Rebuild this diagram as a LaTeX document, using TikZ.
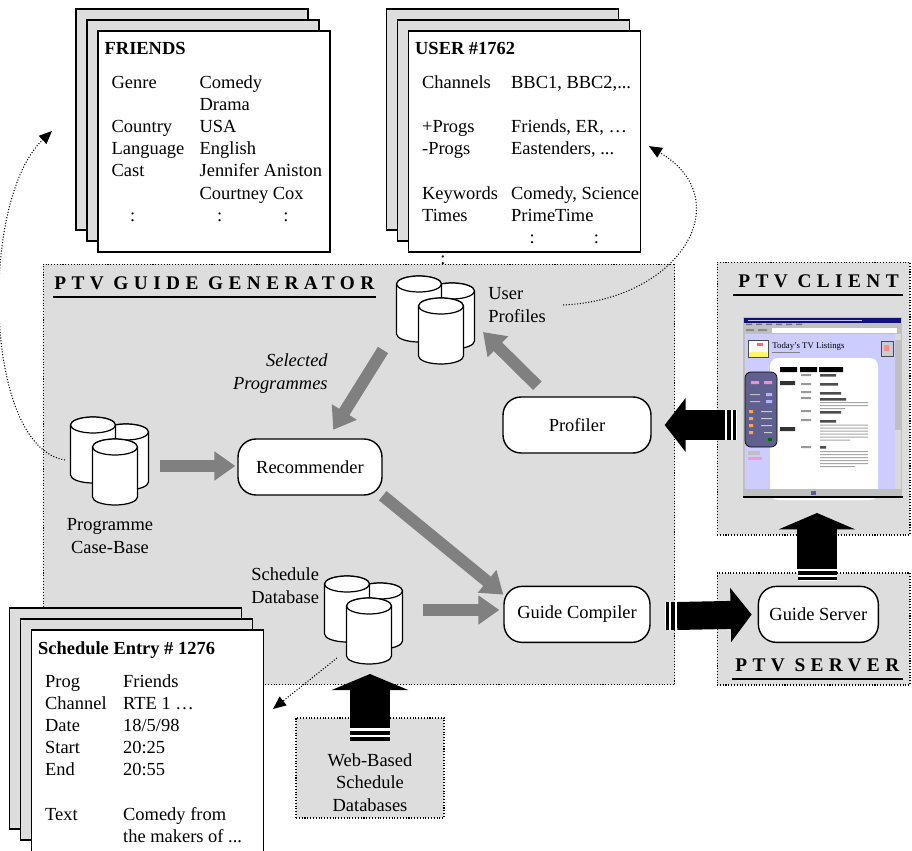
\documentclass[tikz,border=0pt]{standalone}
\usepackage{fontspec}
\setmainfont{Liberation Serif}
\usetikzlibrary{arrows.meta, positioning, calc}

\definecolor{panelGrey}{RGB}{221,221,221}
\definecolor{flowGrey}{RGB}{128,128,128}
\definecolor{winGrey}{RGB}{192,192,192}
\definecolor{winNavy}{RGB}{16,16,128}
\definecolor{pageLilac}{RGB}{204,204,255}
\definecolor{remoteBlue}{RGB}{96,96,144}

\tikzset{
  panelBox/.style={rectangle, draw=black, densely dotted, line width=0.6pt, fill=panelGrey, inner sep=0pt},
  panelTitle/.style={anchor=base west, inner sep=0pt, font=\fontsize{11}{13}\selectfont\bfseries\addfontfeature{LetterSpace=28}},
  titleRule/.style={line width=1.1pt},
  sheetBack/.style={rectangle, draw=black, line width=0.8pt, fill=panelGrey, minimum width=4.64cm, minimum height=4.42cm},
  sheetFront/.style={sheetBack, fill=white},
  sheetHead/.style={anchor=base west, inner sep=0pt, font=\fontsize{10.5}{12.6}\selectfont\bfseries},
  sheetBody/.style={anchor=base west, inner sep=0pt},
  dbLabel/.style={inner sep=0pt},
  procBox/.style={rectangle, rounded corners=0.36cm, draw=black, line width=0.8pt, fill=white, minimum height=1.12cm, align=center},
  cylLine/.style={draw=black, fill=white, line width=0.7pt},
  greyArr/.style={color=flowGrey, line width=0.24cm, -{Triangle[length=0.42cm, width=0.56cm]}},
  hBlock/.style={line width=0.58cm, -{Triangle[length=0.42cm, width=1.06cm]}},
  vBlock/.style={line width=0.79cm, -{Triangle[length=0.33cm, width=1.53cm]}},
  dotArr/.style={densely dotted, line width=0.6pt, -{Triangle[length=0.26cm, width=0.22cm]}},
  % one database drum, origin at the top of its lid
  dbcyl/.pic={
    \draw[cylLine] (-22.5,8) -- (-22.5,58) arc[start angle=180, end angle=0, x radius=22.5, y radius=8]
      -- (22.5,8) arc[start angle=0, end angle=-180, x radius=22.5, y radius=8] -- cycle;
    \draw[cylLine] (0,8) ellipse[x radius=22.5, y radius=8];
  },
  % three drums, origin at the front one
  dbstack/.pic={
    \pic at (11,-15) {dbcyl};
    \pic at (-22,-22) {dbcyl};
    \pic at (0,0) {dbcyl};
    \coordinate (-e) at (45,27);
    \coordinate (-ne) at (54,12);
    \coordinate (-se) at (42,34);
    \coordinate (-sw) at (-58,52);
    \coordinate (-w) at (-50,21);
    \coordinate (-s) at (0,66);
    \coordinate (-dl) at (-32,60);
  },
}

\begin{document}
\begin{tikzpicture}[x=0.02cm, y=-0.02cm, every node/.style={font=\fontsize{10.5}{12.6}\selectfont}]
\useasboundingbox (0,0) rectangle (912,851);
\clip (0,0) rectangle (912,851);

% Panels
\node[panelBox, minimum width=12.64cm, minimum height=8.42cm] (gen) at (359,474.5) {};
\node[panelBox, minimum width=3.86cm, minimum height=5.46cm] (clientBox) at (813.5,398.5) {};
\node[panelBox, minimum width=3.86cm, minimum height=2.24cm] (serverBox) at (813.5,629) {};
\node[panelBox, minimum width=2.96cm, minimum height=2cm] (webBox) at (370,768) {};

\node[panelTitle] (genTitle) at (54,289) {PTV\hspace{0.5em}GUIDE\hspace{0.5em}GENERATOR};
\node[panelTitle] (clientTitle) at (738,287) {PTV\hspace{0.5em}CLIENT};
\node[panelTitle] (serverTitle) at (735,671) {PTV\hspace{0.5em}SERVER};
\draw[titleRule] ([shift={(-1,8)}]genTitle.base west) -- ([shift={(1,8)}]genTitle.base east);
\draw[titleRule] ([shift={(-5,8)}]clientTitle.base west) -- ([shift={(4,8)}]clientTitle.base east);
\draw[titleRule] ([shift={(-3,8)}]serverTitle.base west) -- ([shift={(3,8)}]serverTitle.base east);

% Programme record
\node[sheetBack] (friends3) at (192,119.5) {};
\node[sheetBack] (friends2) at (203,130.5) {};
\node[sheetFront] (friends) at (214,141.5) {};
\node[sheetHead] (friendsHead) at ([shift={(7,24)}]friends.north west) {FRIENDS};
\node[sheetBody] (friendsBody) at ([shift={(14,58)}]friends.north west) {%
  \begin{tabular}[t]{@{}p{1.76cm}@{}l@{}}
  Genre & Comedy\\
   & Drama\\
  Country & USA\\
  Language & English\\
  Cast & Jennifer Aniston\\
   & Courtney Cox\\
  \hspace{0.37cm}: & \hspace{0.35cm}:\hspace{1.22cm}:
  \end{tabular}};

% User profile record
\node[sheetBack] (user3) at (502.5,119.5) {};
\node[sheetBack] (user2) at (513.5,130.5) {};
\node[sheetFront] (user) at (524.5,141.5) {};
\node[sheetHead] (userHead) at ([shift={(7,24)}]user.north west) {USER \#1762};
\node[sheetBody] (userBody) at ([shift={(14,58)}]user.north west) {%
  \begin{tabular}[t]{@{}p{1.78cm}@{}l@{}}
  Channels & BBC1, BBC2,...\\
   & \\
  +Progs & Friends, ER, …\\
  -Progs & Eastenders, ...\\
   & \\
  Keywords & Comedy, Science\\
  Times & PrimeTime\\
   & \hspace{0.37cm}:\hspace{1.18cm}:
  \end{tabular}};
\node[anchor=base, inner sep=0pt] (userMore) at (443,264) {:};

% Schedule record
\node[sheetBack] (entry3) at (125.5,718.5) {};
\node[sheetBack] (entry2) at (136.5,729.5) {};
\node[sheetFront, minimum height=4.6cm] (entry) at (147.5,745) {};
\node[sheetHead] (entryHead) at ([shift={(7,25)}]entry.north west) {Schedule Entry \# 1276};
\node[sheetBody] (entryBody) at ([shift={(14,58)}]entry.north west) {%
  \begin{tabular}[t]{@{}p{1.56cm}@{}l@{}}
  Prog & Friends\\
  Channel & RTE 1 …\\
  Date & 18/5/98\\
  Start & 20:25\\
  End & 20:55\\
   & \\
  Text & Comedy from\\
   & the makers of ...
  \end{tabular}};

% Databases
\pic (prof) at (441,298) {dbstack};
\pic (case) at (115,439) {dbstack};
\pic (sched) at (369,598) {dbstack};

% multi-line labels sit on the baseline of their last line
\node[dbLabel, anchor=base west, align=left] (profLabel) at (488,322) {User\\Profiles};
\node[dbLabel, anchor=base east, align=right, font=\fontsize{10.5}{12.6}\selectfont\itshape] (selLabel) at (328,389) {Selected\\Programmes};
\node[dbLabel, anchor=base, align=center] (caseLabel) at (110,553) {Programme\\Case-Base};
\node[dbLabel, anchor=base west, align=left] (schedLabel) at (251,603) {Schedule\\Database};
\node[dbLabel, anchor=base, align=center] (webLabel) at (370,811) {Web-Based\\Schedule\\Databases};

% Processes
\node[procBox, minimum width=2.88cm] (recomm) at (310,467) {Recommender};
\node[procBox, minimum width=2.96cm] (profiler) at (577,425) {Profiler};
\node[procBox, minimum width=2.92cm, below=2.64cm of profiler] (compiler) {Guide Compiler};
\node[procBox, minimum width=2.4cm, right=2.14cm of compiler] (server) {Guide Server};

% Browser window on the client
\node[rectangle, fill=winGrey, minimum width=3.2cm, minimum height=3.6cm, inner sep=0pt, outer sep=0pt] (screen) at (822.5,407) {};
\fill[winNavy] (744,318) rectangle (901,322.5);
\fill[white!75!winNavy] (748,319.5) rectangle (862,320.8);
\fill[black!55] (746,323.5) rectangle (752,325) (756,323.5) rectangle (762,325) (766,323.5) rectangle (772,325)
  (776,323.5) rectangle (782,325) (786,323.5) rectangle (792,325) (796,323.5) rectangle (802,325);
\fill[black!45] (746,329) rectangle (754,331) (758,329) rectangle (767,331);
\fill[white] (772,328) rectangle (897,332.5);
\fill[pageLilac] (745,334) rectangle (895,489);
\fill[winGrey!60] (895,334) rectangle (901,489);
\fill[winGrey] (895,340) rectangle (901,430);
\fill[white, rounded corners=0.16cm] (770,358) rectangle (878,500);
\fill[winGrey] (744,489) rectangle (901,496);
\fill[winNavy!70] (811,490.5) rectangle (816,494.5);
\draw[line width=1pt] (742.5,497) -- (902.5,497);
% page header
\draw[black!70, fill=white, line width=0.3pt] (748,340) rectangle (768,357);
\fill[yellow!60] (749,352) rectangle (767,356.5);
\fill[red!60] (757,343) rectangle (763,346);
\node[anchor=base west, inner sep=0pt, font=\fontsize{5}{6}\selectfont] (tvTitle) at (772,348) {Today's TV Listings};
\fill[black!50] (772,352) rectangle (800,353.3);
\draw[black!70, fill=black!20, line width=0.3pt] (881,341) rectangle (893,356);
\fill[red!45] (884,345) rectangle (889,351);
% remote control
\draw[fill=remoteBlue, rounded corners=0.12cm, line width=0.4pt] (745,372) rectangle (777,447);
\fill[magenta!45] (751,381) rectangle (759,384) (764,381) rectangle (772,384);
\fill[blue!30] (766,393) rectangle (772,396) (766,400) rectangle (772,403);
\fill[black!25] (750,394) rectangle (760,395.2) (750,401) rectangle (760,402.2);
\fill[orange!70] (749,410) rectangle (753,413) (749,417) rectangle (753,420) (749,424) rectangle (753,427) (749,431) rectangle (753,434);
\fill[black!20] (761,411) rectangle (772,412.2) (761,418) rectangle (772,419.2) (761,425) rectangle (772,426.2) (764,432) rectangle (772,433.2);
\fill[green!40!black] (768,438) rectangle (772,441);
\fill[black!25] (748,451) rectangle (760,455);
\fill[magenta!40] (748,457) rectangle (762,460);
% listings
\fill[black] (780,367) rectangle (797,372) (800,367) rectangle (817,372) (819,367) rectangle (843,372);
\fill[black!80] (780,381) rectangle (795,385) (780,427) rectangle (795,431);
\fill[black!40] (801,374) rectangle (811,376) (801,383) rectangle (811,385) (801,391) rectangle (811,393)
  (801,397) rectangle (811,399) (801,410) rectangle (811,412) (801,419) rectangle (811,421) (801,446) rectangle (811,448);
\fill[black!70] (820,374) rectangle (836,376.5) (820,383) rectangle (838,385.5) (820,392) rectangle (841,394.5)
  (820,398) rectangle (846,400.5) (820,411) rectangle (841,413.5) (820,420) rectangle (836,422.5) (820,446) rectangle (826,448.5);
\fill[black!35] (820,402) rectangle (868,403.2) (820,405) rectangle (868,406.2) (820,408) rectangle (845,409.2)
  (820,424.5) rectangle (868,425.7) (820,427.5) rectangle (868,428.7) (820,430.5) rectangle (868,431.7)
  (820,433.5) rectangle (868,434.7) (820,436.5) rectangle (868,437.7) (820,439.5) rectangle (850,440.7)
  (820,451) rectangle (868,452.2) (820,454) rectangle (868,455.2) (820,457) rectangle (868,458.2)
  (820,460) rectangle (868,461.2) (820,463) rectangle (868,464.2) (820,466) rectangle (855,467.2);

% Grey data flows
\draw[greyArr, shorten >=0.04cm] (case-e) -- (case-e -| recomm.west);
\draw[greyArr, shorten >=0.2cm] (prof-sw) -- (recomm);
\draw[greyArr, shorten <=0.3cm] (profiler) -- (prof-se);
\draw[greyArr] (recomm.south east) -- (compiler.165);
\draw[greyArr, shorten >=0.08cm] (sched-ne) -- (sched-ne -| compiler.west);

% Striped black arrows
\coordinate (clientOut) at (725,425);
\draw[hBlock, line width=0.6cm, shorten >=0.26cm] (clientOut) -- (profiler.east);
\fill[white] (clientOut) ++(0,-15) rectangle ++(12,30);
\fill (clientOut) ++(2,-15) rectangle ++(4,30);
\fill (clientOut) ++(8,-15) rectangle ++(3,30);

\coordinate (compOut) at (677,616);
\draw[hBlock, line width=0.56cm, shorten >=0.12cm] (compOut) -- (server.west);
\fill[white] (compOut) ++(-12,-14) rectangle ++(12,28);
\fill (compOut) ++(-6,-14) rectangle ++(4,28);
\fill (compOut) ++(-11,-14) rectangle ++(3,28);

\coordinate (serverOut) at (817,569);
\draw[vBlock, shorten >=0.32cm] (serverOut) -- (serverOut |- screen.south);
\fill[white] (serverOut) ++(-19.5,0) rectangle ++(39,12);
\fill (serverOut) ++(-19.5,2) rectangle ++(39,4);
\fill (serverOut) ++(-19.5,8) rectangle ++(39,3);

\coordinate (webOut) at (370,728);
\draw[vBlock, line width=0.8cm, -{Triangle[length=0.32cm, width=1.52cm]}, shorten >=0.2cm] (webOut) -- (webOut |- sched-s);
\fill[white] (webOut) ++(-20,0) rectangle ++(40,13);
\fill (webOut) ++(-20,3) rectangle ++(40,4);
\fill (webOut) ++(-20,9) rectangle ++(40,4);

% Dotted look-ups
\coordinate (friendsIn) at (52,131);
\coordinate (entryIn) at (273,709);
\draw[dotArr] (case-w) .. controls (-17,447) and (-21,200) .. (friendsIn);
\draw[dotArr, shorten >=0.18cm] ([xshift=0.34cm]profLabel.east) .. controls (680,300) and (740,200) .. (user.east);
\draw[dotArr] (sched-dl) -- (entryIn);
\end{tikzpicture}
\end{document}
